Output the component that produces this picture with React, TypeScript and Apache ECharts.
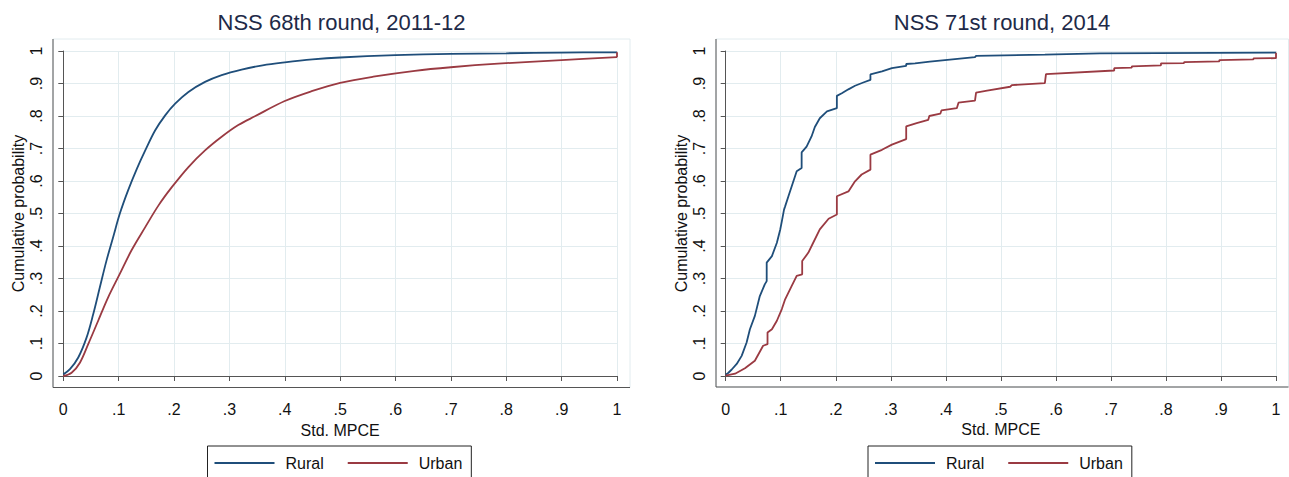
import React, { useEffect, useRef } from "react";
import * as echarts from "echarts";

// ---- Data ----
const titles = ["NSS 68th round, 2011-12", "NSS 71st round, 2014"];
const xTitle = "Std. MPCE";
const yTitle = "Cumulative probability";
const seriesNames = ["Rural", "Urban"];
const tickLabels = ["0", ".1", ".2", ".3", ".4", ".5", ".6", ".7", ".8", ".9", "1"];

// NSS 68th round (smooth CDFs)
const rural68: [number, number][] = [
  [0, 0.005], [0.012, 0.021], [0.027, 0.057], [0.042, 0.118], [0.054, 0.19], [0.066, 0.273],
  [0.078, 0.355], [0.09, 0.427], [0.102, 0.499], [0.117, 0.571], [0.133, 0.638], [0.148, 0.694],
  [0.166, 0.756], [0.184, 0.802], [0.202, 0.838], [0.226, 0.874], [0.256, 0.905], [0.286, 0.926],
  [0.322, 0.943], [0.36, 0.956], [0.4, 0.965], [0.45, 0.974], [0.5, 0.98], [0.6, 0.987],
  [0.7, 0.991], [0.8, 0.993], [0.9, 0.995], [1, 0.996],
];
const urban68: [number, number][] = [
  [0, 0], [0.015, 0.01], [0.03, 0.041], [0.045, 0.098], [0.063, 0.17], [0.081, 0.242],
  [0.102, 0.314], [0.123, 0.386], [0.148, 0.458], [0.172, 0.525], [0.196, 0.581], [0.226, 0.643],
  [0.256, 0.694], [0.286, 0.736], [0.316, 0.772], [0.346, 0.799], [0.4, 0.846], [0.45, 0.877],
  [0.5, 0.902], [0.56, 0.921], [0.635, 0.939], [0.7, 0.95], [0.785, 0.961], [0.9, 0.972],
  [1, 0.981],
];
const urban68End: [number, number][] = [[1, 0.981], [1, 0.996]];

// NSS 71st round (step-like ECDFs)
const rural71: [number, number][] = [
  [0, 0.004], [0.005, 0.01], [0.011, 0.02], [0.02, 0.037], [0.029, 0.062], [0.038, 0.103],
  [0.044, 0.144], [0.053, 0.185], [0.062, 0.246], [0.071, 0.282], [0.0745, 0.292], [0.0745, 0.349],
  [0.084, 0.369], [0.093, 0.41], [0.099, 0.45], [0.102, 0.476], [0.106, 0.512], [0.108, 0.522],
  [0.114, 0.553], [0.12, 0.584], [0.129, 0.63], [0.138, 0.64], [0.138, 0.688], [0.147, 0.706],
  [0.156, 0.737], [0.162, 0.766], [0.171, 0.793], [0.184, 0.814], [0.202, 0.824], [0.202, 0.862],
  [0.211, 0.87], [0.223, 0.882], [0.235, 0.893], [0.25, 0.903], [0.263, 0.911], [0.263, 0.928],
  [0.284, 0.937], [0.302, 0.947], [0.328, 0.954], [0.328, 0.96], [0.344, 0.962], [0.371, 0.967],
  [0.453, 0.981], [0.455, 0.985], [0.58, 0.989], [0.68, 0.993], [1, 0.995],
];
const urban71: [number, number][] = [
  [0, 0.001], [0.017, 0.007], [0.035, 0.024], [0.053, 0.047], [0.068, 0.093], [0.076, 0.098],
  [0.076, 0.134], [0.084, 0.144], [0.093, 0.17], [0.102, 0.206], [0.108, 0.236], [0.12, 0.277],
  [0.129, 0.308], [0.139, 0.313], [0.139, 0.354], [0.15, 0.379], [0.159, 0.41], [0.171, 0.451],
  [0.187, 0.484], [0.202, 0.497], [0.202, 0.553], [0.223, 0.568], [0.235, 0.599], [0.247, 0.62],
  [0.263, 0.635], [0.263, 0.681], [0.284, 0.696], [0.302, 0.712], [0.328, 0.729], [0.328, 0.768],
  [0.347, 0.778], [0.368, 0.788], [0.37, 0.8], [0.39, 0.807], [0.392, 0.817], [0.42, 0.824],
  [0.423, 0.841], [0.453, 0.847], [0.455, 0.872], [0.475, 0.878], [0.517, 0.89], [0.52, 0.895],
  [0.58, 0.901], [0.582, 0.929], [0.706, 0.94], [0.706, 0.947], [0.738, 0.949], [0.738, 0.953],
  [0.791, 0.956], [0.791, 0.962], [0.833, 0.963], [0.833, 0.966], [0.897, 0.968], [0.897, 0.972],
  [0.959, 0.974], [0.959, 0.977], [1, 0.978], [1, 0.995],
];

// ---- Styles ----
const FONT = "'Liberation Sans', Arial, sans-serif";
const BLUE = "#1f4e7a";
const RED = "#9a3a42";
const GRID_C = "#e2ecef";
const AXIS_C = "#555555";
const TEXT_C = "#111111";

const panels = [
  { left: 63.3, width: 553.7, top: 51, height: 325, frameL: 53, frameR: 630, frameB: 387.5, center: 341.5, legendLeft: 207.5 },
  { left: 725.7, width: 550.3, top: 51, height: 325, frameL: 716, frameR: 1288.5, frameB: 387, center: 1002, legendLeft: 868 },
];
const FRAME_TOP = 39;

export default function App() {
  const ref = useRef<HTMLDivElement>(null);
  useEffect(() => {
    if (!ref.current) return;
    const chart = echarts.init(ref.current, null, { renderer: "svg" });
    const fmt = (v: number) => tickLabels[Math.round(v * 10)] ?? "";

    const mkSeries = (name: string, d: [number, number][], gi: number, color: string, smooth: number | boolean) => ({
      type: "line",
      name,
      xAxisIndex: gi,
      yAxisIndex: gi,
      data: d,
      symbol: "none",
      showSymbol: false,
      smooth,
      clip: false,
      lineStyle: { color, width: 1.8 },
      itemStyle: { color },
      z: 5,
    });

    const option: any = {
      animation: false,
      backgroundColor: "#ffffff",
      textStyle: { fontFamily: FONT },
      title: panels.map((p, i) => ({
        text: titles[i],
        left: p.center,
        textAlign: "center",
        top: 11,
        padding: 0,
        textStyle: { fontFamily: FONT, fontSize: 22, fontWeight: "normal", color: "#1e2a48" },
      })),
      grid: panels.map((p) => ({ left: p.left, top: p.top, width: p.width, height: p.height, containLabel: false })),
      xAxis: panels.map((p, i) => ({
        type: "value",
        gridIndex: i,
        min: 0,
        max: 1,
        interval: 0.1,
        offset: p.frameB - (p.top + p.height),
        name: xTitle,
        nameLocation: "middle",
        nameGap: 32,
        nameTextStyle: { fontFamily: FONT, fontSize: 16, color: TEXT_C },
        axisLine: { show: true, lineStyle: { color: AXIS_C, width: 1 } },
        axisTick: { show: true, length: 5, lineStyle: { color: AXIS_C } },
        axisLabel: { formatter: fmt, fontFamily: FONT, fontSize: 16, color: TEXT_C, margin: 14, showMinLabel: true, showMaxLabel: true },
        splitLine: { show: true, lineStyle: { color: GRID_C, width: 1 } },
      })),
      yAxis: panels.map((p, i) => ({
        type: "value",
        gridIndex: i,
        min: 0,
        max: 1,
        interval: 0.1,
        offset: p.left - p.frameL,
        name: yTitle,
        nameLocation: "middle",
        nameGap: 27,
        nameRotate: 90,
        nameTextStyle: { fontFamily: FONT, fontSize: 16, color: TEXT_C },
        axisLine: { show: true, lineStyle: { color: AXIS_C, width: 1 } },
        axisTick: { show: true, length: 5, lineStyle: { color: AXIS_C } },
        axisLabel: { formatter: fmt, rotate: 90, fontFamily: FONT, fontSize: 16, color: TEXT_C, margin: 9, showMinLabel: true, showMaxLabel: true },
        splitLine: { show: true, lineStyle: { color: GRID_C, width: 1 } },
      })),
      legend: panels.map((p) => ({
        data: seriesNames.map((n) => ({ name: n, icon: "rect" })),
        left: p.legendLeft,
        top: 446,
        orient: "horizontal",
        padding: [9, 9, 9, 7],
        itemGap: 24,
        itemWidth: 60,
        itemHeight: 2,
        borderColor: "#222222",
        borderWidth: 1,
        borderRadius: 0,
        selectedMode: false,
        textStyle: { fontFamily: FONT, fontSize: 16, color: TEXT_C, padding: [0, 0, 0, 6] },
      })),
      graphic: panels.flatMap((p) => [
        {
          type: "rect",
          z: 1,
          silent: true,
          shape: { x: p.frameL, y: FRAME_TOP, width: p.frameR - p.frameL, height: p.frameB - FRAME_TOP },
          style: { fill: "none", stroke: GRID_C, lineWidth: 1 },
        },
        {
          type: "line",
          z: 3,
          silent: true,
          shape: { x1: p.frameL, y1: p.frameB, x2: p.frameR, y2: p.frameB },
          style: { stroke: AXIS_C, lineWidth: 1 },
        },
        {
          type: "line",
          z: 3,
          silent: true,
          shape: { x1: p.frameL, y1: FRAME_TOP, x2: p.frameL, y2: p.frameB },
          style: { stroke: AXIS_C, lineWidth: 1 },
        },
      ]),
      series: [
        mkSeries("Rural", rural68, 0, BLUE, 0.35),
        mkSeries("Urban", urban68, 0, RED, 0.35),
        mkSeries("Urban", urban68End, 0, RED, false),
        mkSeries("Rural", rural71, 1, BLUE, false),
        mkSeries("Urban", urban71, 1, RED, false),
      ],
    };
    chart.setOption(option);
    return () => chart.dispose();
  }, []);

  return (
    <div
      ref={ref}
      style={{ position: "fixed", left: 0, top: 0, width: 1289, height: 477, background: "#fff" }}
    />
  );
}
